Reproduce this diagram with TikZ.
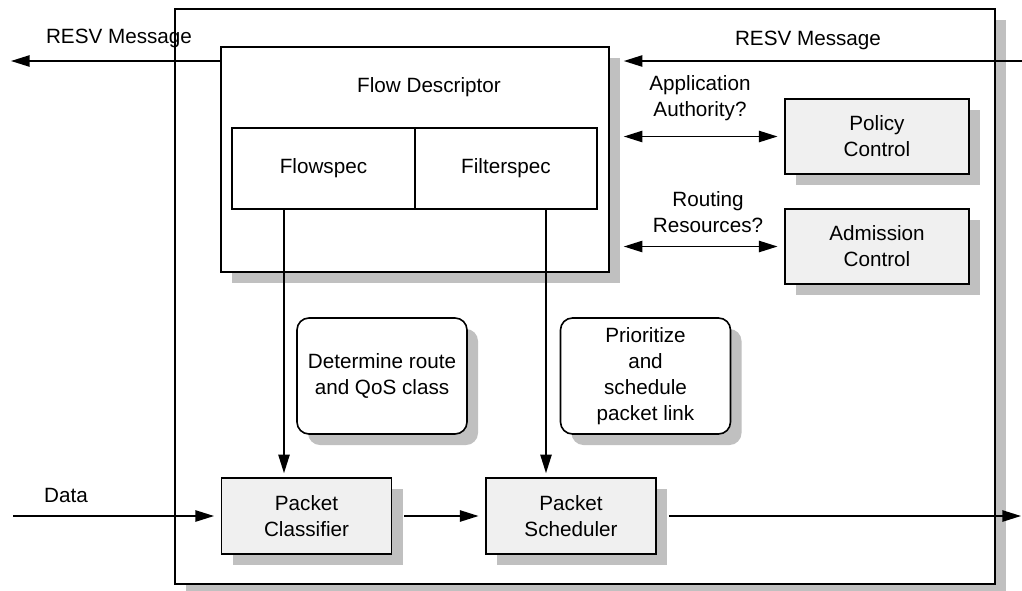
\documentclass[tikz,border=0pt]{standalone}
\usepackage{fontspec}
\setmainfont{Liberation Sans}
\usetikzlibrary{arrows.meta,shadows}
\definecolor{shadowgray}{HTML}{C0C0C0}
\definecolor{boxfill}{HTML}{F0F0F0}

\begin{document}
\begin{tikzpicture}[x=0.75pt,y=-0.75pt,line width=1.2pt,
  >={Triangle[length=14pt,width=8.5pt]},
  font=\fontsize{15.5}{19.5}\selectfont,
  boxshadow/.style={drop shadow={shadow xshift=8.25pt,shadow yshift=-8.25pt,fill=shadowgray,opacity=1}},
  greybox/.style={draw,fill=boxfill,boxshadow,align=center,inner sep=0pt},
  roundbox/.style={draw,fill=white,boxshadow,rounded corners=9pt,align=center,inner sep=0pt,minimum width=127.5pt,minimum height=87pt}]
\useasboundingbox (0,0) rectangle (1022,590);
% Router
\node[draw,fill=white,boxshadow,minimum width=615pt,minimum height=431.25pt] (router) at (585,296.5) {};
% Flow descriptor
\node[draw,fill=white,boxshadow,minimum width=291pt,minimum height=168.75pt] (fd) at (415,159.5) {};
\node (fdlabel) at (429,87) {Flow Descriptor};
\node[draw,minimum width=137.25pt,minimum height=60.75pt] (flowspec) at (323.5,168.5) {Flowspec};
\node[draw,minimum width=136.5pt,minimum height=60.75pt] (filterspec) at (506,168.5) {Filterspec};
% Control modules
\node[greybox,minimum width=138pt,minimum height=56.25pt] (policy) at (877,136.5) {Policy\\Control};
\node[greybox,minimum width=138pt,minimum height=56.25pt] (admission) at (877,246.5) {Admission\\Control};
\node[align=center] (authq) at (700,98.5) {Application\\Authority?};
\node[align=center] (routeq) at (708,212.5) {Routing\\Resources?};
% Data path
\node[roundbox] (routenote) at (382,376) {Determine route\\and QoS class};
\node[roundbox] (schednote) at (645.5,376) {Prioritize\\and\\schedule\\packet link};
\node[greybox,minimum width=127.5pt,minimum height=57pt] (classifier) at (306.5,516) {Packet\\Classifier};
\node[greybox,minimum width=127.5pt,minimum height=57pt] (scheduler) at (571,516) {Packet\\Scheduler};
% Labels
\node (resvleft) at (119,38) {RESV Message};
\node (resvright) at (808,40) {RESV Message};
\node (datalabel) at (66,495) {Data};
% Connectors
\coordinate (fdedge) at ([xshift=10.5pt]fd.east);
\coordinate (resvout) at (11,61);
\coordinate (resvin) at (1022,61);
\coordinate (datain) at (13,516);
\coordinate (dataout) at (1021,516);
\coordinate (lanea) at (284,0);
\coordinate (laneb) at (546,0);
\draw[->] (fd.west |- resvout) -- (resvout);
\draw[->] (resvin) -- (fdedge |- resvin);
\draw[<->,shorten >=5pt] (fdedge |- policy.west) -- (policy.west);
\draw[<->,shorten >=5pt] (fdedge |- admission.west) -- (admission.west);
\draw[->,shorten >=3pt] (flowspec.south -| lanea) -- (classifier.north -| lanea);
\draw[->,shorten >=3pt] (filterspec.south -| laneb) -- (scheduler.north -| laneb);
\draw[->,shorten >=5pt] (datain) -- (classifier.west);
\draw[->,shorten >=5pt] ([xshift=9pt]classifier.east) -- (scheduler.west);
\draw[->] ([xshift=9pt]scheduler.east) -- (dataout);
\end{tikzpicture}
\end{document}
